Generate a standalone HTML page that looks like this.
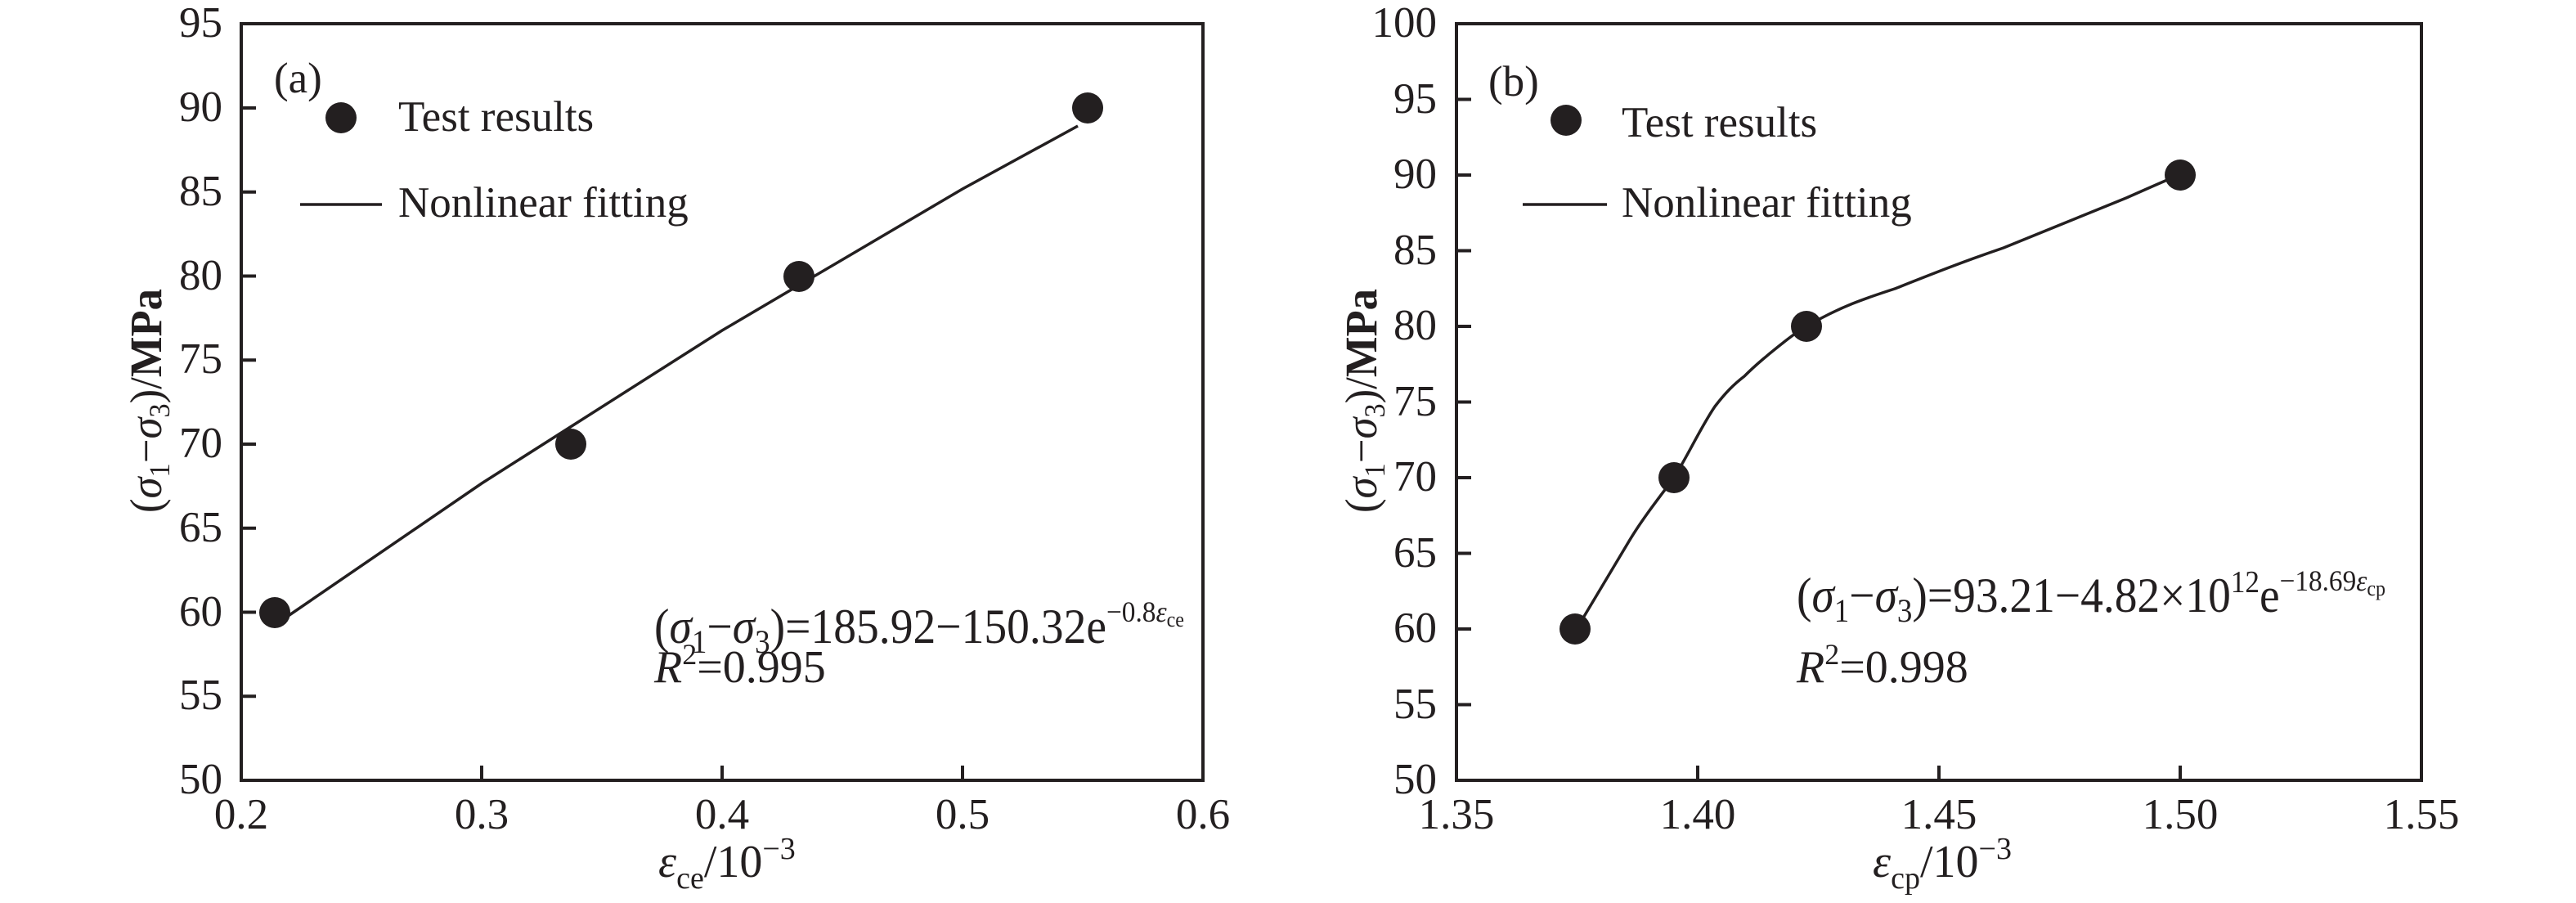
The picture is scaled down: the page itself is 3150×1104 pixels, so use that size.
<!DOCTYPE html>
<html><head><meta charset="utf-8"><style>
html,body{margin:0;padding:0;background:#fff;}
svg{display:block;font-family:"Liberation Serif","Times New Roman",Times,serif;}
svg text, svg tspan{font-family:"Liberation Serif","Times New Roman",Times,serif;}
text{fill:#231f20;}
</style></head><body>
<svg width="3150" height="1104" viewBox="0 0 3150 1104" xmlns="http://www.w3.org/2000/svg" font-family="Liberation Serif, Times New Roman, serif">
<g stroke="#231f20" stroke-width="4" fill="none">
<rect x="295" y="29" width="1176" height="925"/>
<rect x="1781" y="29" width="1180" height="925"/>
<path d="M295 132h18M295 234.8h18M295 337.5h18M295 440.3h18M295 543h18M295 645.8h18M295 748.5h18M295 851.3h18"/>
<path d="M589 954v-18M883 954v-18M1177 954v-18"/>
<path d="M1781 121.5h18M1781 214h18M1781 306.5h18M1781 399h18M1781 491.5h18M1781 584h18M1781 676.5h18M1781 769h18M1781 861.5h18"/>
<path d="M2076 954v-18M2371 954v-18M2666 954v-18"/>
</g>
<g stroke="#231f20" stroke-width="3.5" fill="none">
<polyline points="348,756 589,591 883,404 1177,231 1318,154"/>
<path d="M1932,762 L1993,660 C2010,632 2030,607 2047,584 C2065,555 2080,522 2097,497 C2110,480 2120,470 2133,460 C2150,443 2168,429 2183,417 C2192,410 2200,404 2209,399 C2250,375 2280,365 2317,353 C2360,336 2400,320 2450,303 C2500,283 2550,262 2600,242 C2625,231 2645,222 2662,215"/>
<path d="M367 250h100M1862 250h103"/>
</g>
<g fill="#231f20">
<circle cx="336" cy="749" r="19"/><circle cx="698" cy="543" r="19"/><circle cx="977" cy="338" r="19"/><circle cx="1330" cy="132" r="19"/>
<circle cx="1926" cy="769" r="19"/><circle cx="2047" cy="584" r="19"/><circle cx="2209" cy="399" r="19"/><circle cx="2666" cy="214" r="19"/>
<circle cx="417" cy="144" r="19"/><circle cx="1915" cy="147" r="19"/>
</g>
<g font-size="53" text-anchor="end" font-family="Liberation Serif, serif">
<text x="272" y="45">95</text><text x="272" y="148">90</text><text x="272" y="251">85</text><text x="272" y="354">80</text><text x="272" y="456">75</text><text x="272" y="559">70</text><text x="272" y="662">65</text><text x="272" y="765">60</text><text x="272" y="867">55</text><text x="272" y="970">50</text>
<text x="1757" y="45">100</text><text x="1757" y="138">95</text><text x="1757" y="230">90</text><text x="1757" y="323">85</text><text x="1757" y="415">80</text><text x="1757" y="508">75</text><text x="1757" y="600">70</text><text x="1757" y="693">65</text><text x="1757" y="785">60</text><text x="1757" y="878">55</text><text x="1757" y="970">50</text>
</g>
<g font-size="53" text-anchor="middle" font-family="Liberation Serif, serif">
<text x="295" y="1013">0.2</text><text x="589" y="1013">0.3</text><text x="883" y="1013">0.4</text><text x="1177" y="1013">0.5</text><text x="1471" y="1013">0.6</text>
<text x="1781" y="1013">1.35</text><text x="2076" y="1013">1.40</text><text x="2371" y="1013">1.45</text><text x="2666" y="1013">1.50</text><text x="2961" y="1013">1.55</text>
</g>
<g font-size="53" font-family="Liberation Serif, serif">
<text x="335" y="113">(a)</text>
<text x="1820" y="117">(b)</text>
<text x="487" y="160">Test results</text>
<text x="487" y="265">Nonlinear fitting</text>
<text x="1983" y="167">Test results</text>
<text x="1983" y="265">Nonlinear fitting</text>
</g>
<g font-family="Liberation Serif, serif">
<text x="805" y="1072" font-size="56"><tspan font-style="italic">ε</tspan><tspan font-size="38" dy="14">ce</tspan><tspan dy="-14">/10</tspan><tspan font-size="38" dy="-22">−3</tspan></text>
<text x="2290" y="1072" font-size="56"><tspan font-style="italic">ε</tspan><tspan font-size="38" dy="14">cp</tspan><tspan dy="-14">/10</tspan><tspan font-size="38" dy="-22">−3</tspan></text>
<text transform="translate(197,627) rotate(-90)" font-size="55" textLength="274" lengthAdjust="spacingAndGlyphs">(<tspan font-style="italic">σ</tspan><tspan font-size="36" dy="10">1</tspan><tspan dy="-10">−</tspan><tspan font-style="italic">σ</tspan><tspan font-size="36" dy="10">3</tspan><tspan dy="-10">)/</tspan><tspan font-weight="bold">MPa</tspan></text>
<text transform="translate(1683,627) rotate(-90)" font-size="55" textLength="274" lengthAdjust="spacingAndGlyphs">(<tspan font-style="italic">σ</tspan><tspan font-size="36" dy="10">1</tspan><tspan dy="-10">−</tspan><tspan font-style="italic">σ</tspan><tspan font-size="36" dy="10">3</tspan><tspan dy="-10">)/</tspan><tspan font-weight="bold">MPa</tspan></text>
<text x="800" y="786" font-size="60" textLength="648" lengthAdjust="spacingAndGlyphs">(<tspan font-style="italic">σ</tspan><tspan font-size="40" dy="12">1</tspan><tspan dy="-12">−</tspan><tspan font-style="italic">σ</tspan><tspan font-size="40" dy="12">3</tspan><tspan dy="-12">)=185.92−150.32e</tspan><tspan font-size="36" dy="-26">−0.8</tspan><tspan font-size="36" font-style="italic">ε</tspan><tspan font-size="26" dy="6">ce</tspan></text>
<text x="800" y="834" font-size="56"><tspan font-style="italic">R</tspan><tspan font-size="36" dy="-22">2</tspan><tspan dy="22">=0.995</tspan></text>
<text x="2197" y="748" font-size="60" textLength="720" lengthAdjust="spacingAndGlyphs">(<tspan font-style="italic">σ</tspan><tspan font-size="40" dy="12">1</tspan><tspan dy="-12">−</tspan><tspan font-style="italic">σ</tspan><tspan font-size="40" dy="12">3</tspan><tspan dy="-12">)=93.21−4.82×10</tspan><tspan font-size="38" dy="-24">12</tspan><tspan dy="24">e</tspan><tspan font-size="36" dy="-26">−18.69</tspan><tspan font-size="36" font-style="italic">ε</tspan><tspan font-size="26" dy="6">cp</tspan></text>
<text x="2197" y="834" font-size="56"><tspan font-style="italic">R</tspan><tspan font-size="36" dy="-22">2</tspan><tspan dy="22">=0.998</tspan></text>
</g>
</svg>
</body></html>
